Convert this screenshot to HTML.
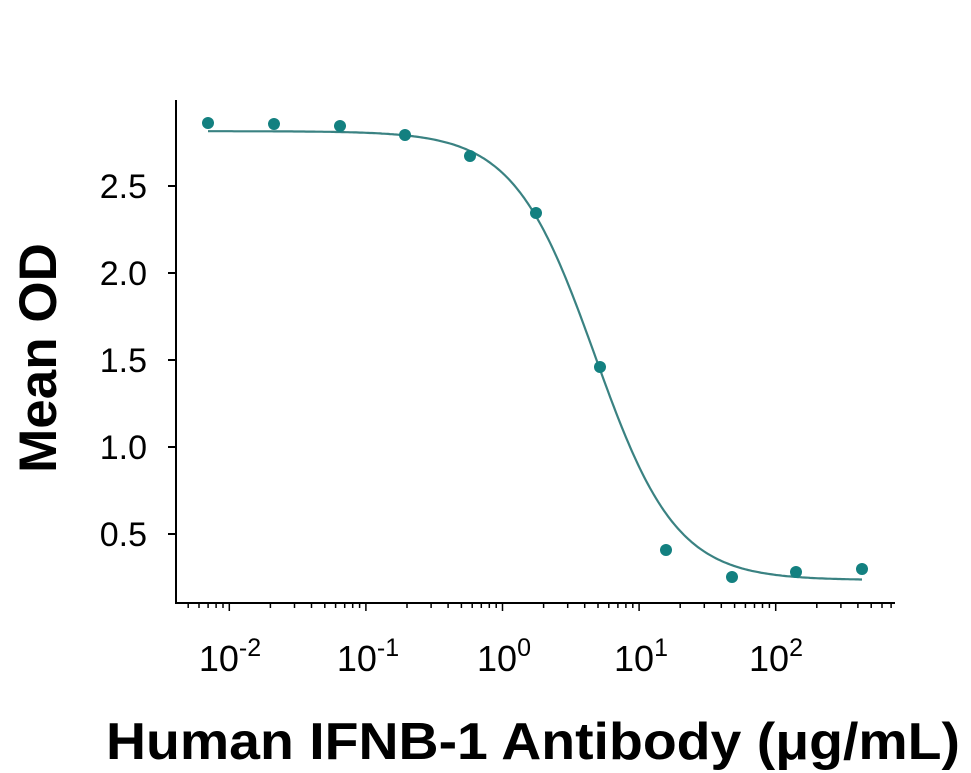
<!DOCTYPE html>
<html><head><meta charset="utf-8"><style>
html,body{margin:0;padding:0;background:#fff;}
svg{display:block;font-family:"Liberation Sans",Arial,sans-serif;}
</style></head><body>
<svg id="s" width="971" height="773" viewBox="0 0 971 773" xmlns="http://www.w3.org/2000/svg">
<g stroke="#000" stroke-width="2" fill="none">
<line x1="176" y1="100" x2="176" y2="604"/>
<line x1="175" y1="603" x2="895" y2="603"/>
<line x1="168" y1="186" x2="176" y2="186"/>
<line x1="168" y1="273" x2="176" y2="273"/>
<line x1="168" y1="360" x2="176" y2="360"/>
<line x1="168" y1="447" x2="176" y2="447"/>
<line x1="168" y1="534" x2="176" y2="534"/>
</g>
<g id="xt" stroke="#000" stroke-width="1.5"></g>
<g font-size="34" text-anchor="end" fill="#000">
<text x="147" y="198">2.5</text>
<text x="147" y="285">2.0</text>
<text x="147" y="372">1.5</text>
<text x="147" y="459">1.0</text>
<text x="147" y="546">0.5</text>
</g>
<g font-size="36" fill="#000" text-anchor="middle">
<text x="230" y="671">10<tspan dy="-15" font-size="25">-2</tspan></text>
<text x="368" y="671">10<tspan dy="-15" font-size="25">-1</tspan></text>
<text x="504" y="671">10<tspan dy="-15" font-size="25">0</tspan></text>
<text x="641" y="671">10<tspan dy="-15" font-size="25">1</tspan></text>
<text x="776" y="671">10<tspan dy="-15" font-size="25">2</tspan></text>
</g>
<text x="106" y="759" font-size="52" font-weight="bold" textLength="854" lengthAdjust="spacingAndGlyphs">Human IFNB-1 Antibody (μg/mL)</text>
<text transform="translate(56,358) rotate(-90)" font-size="53" font-weight="bold" text-anchor="middle">Mean OD</text>
<path id="curve" fill="none" stroke="#3a8282" stroke-width="2.2"/>
<g fill="#138080">
<circle cx="208" cy="123" r="6"/><circle cx="274" cy="124" r="6"/><circle cx="340" cy="126" r="6"/>
<circle cx="405" cy="135" r="6"/><circle cx="470" cy="156" r="6"/><circle cx="536" cy="213" r="6"/>
<circle cx="600" cy="367" r="6"/><circle cx="666" cy="550" r="6"/><circle cx="732" cy="577" r="6"/>
<circle cx="796" cy="572" r="6"/><circle cx="862" cy="569" r="6"/>
</g>
<script>
(function(){
var NS='http://www.w3.org/2000/svg';
var X0=229.3,D=136.6;
function px(l){return X0+(l+2)*D;}
var g=document.getElementById('xt');
for(var d=-3;d<=2;d++){for(var m=1;m<=9;m++){var l=d+Math.log10(m);var x=px(l);if(x<178||x>895)continue;
var len=(m==1)?8:5;var e=document.createElementNS(NS,'line');
e.setAttribute('x1',x.toFixed(1));e.setAttribute('x2',x.toFixed(1));e.setAttribute('y1','603');e.setAttribute('y2',String(603+len));g.appendChild(e);}}
var top=2.815,bot=0.235,lc=0.677,hill=1.46,p='';
for(var x=208;x<=862;x+=2){var l=(x-X0)/D-2;var v=bot+(top-bot)/(1+Math.pow(10,hill*(l-lc)));var y=621-174*v;p+=(p?'L':'M')+x+','+y.toFixed(1);}
document.getElementById('curve').setAttribute('d',p);
})();
</script>
</svg>
</body></html>
